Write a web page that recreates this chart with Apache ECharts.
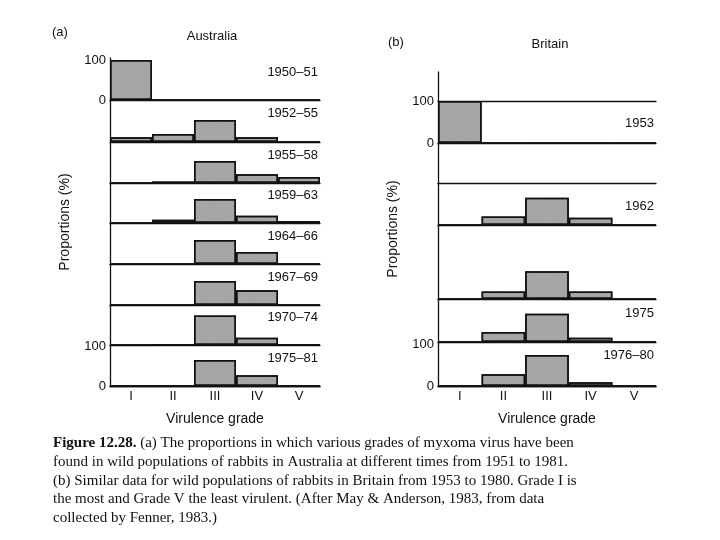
<!DOCTYPE html>
<html>
<head>
<meta charset="utf-8">
<script src="https://cdn.jsdelivr.net/npm/echarts@6/dist/echarts.min.js"></script>
<style>
html,body{margin:0;padding:0;background:#fff;}
#chart{width:720px;height:540px;}
</style>
</head>
<body>
<div id="chart"></div>
<script>
// virulence grades
var grades = ['I', 'II', 'III', 'IV', 'V'];

// Australia, proportions (%) per grade
var ausPeriods = ['1950–51', '1952–55', '1955–58', '1959–63', '1964–66', '1967–69', '1970–74', '1975–81'];
var aus1950 = [100, 0, 0, 0, 0];
var aus1952 = [12, 20, 55, 12, 0];
var aus1955 = [0, 4, 55, 22, 15];
var aus1959 = [0, 8, 60, 18, 5];
var aus1964 = [0, 0, 60, 30, 0];
var aus1967 = [0, 0, 60, 37, 0];
var aus1970 = [0, 1, 74, 18, 1];
var aus1975 = [0, 0, 65, 27, 0];
var ausData = [aus1950, aus1952, aus1955, aus1959, aus1964, aus1967, aus1970, aus1975];

// Britain, proportions (%) per grade
var gbPeriods = ['1953', '1962', '', '1975', '1976–80'];
var gb1953 = [100, 0, 0, 0, 0];
var gb1962 = [0, 20, 65, 17, 0];
var gbMid = [0, 18, 66, 18, 0];
var gb1975 = [0, 24, 67, 10, 0];
var gb1976 = [0, 28, 74, 9, 0];
var gbData = [gb1953, gb1962, gbMid, gb1975, gb1976];

var FONT = 'Liberation Sans';
var grid = [], xAxis = [], yAxis = [], series = [], graphic = [];

function addRow(left, width, base, h, values, yLabels, topLine) {
	var gi = grid.length, xi = xAxis.length, yi = yAxis.length;
	grid.push({left: left, width: width, top: base - h, height: h});
	xAxis.push({type: 'category', gridIndex: gi, data: grades,
		axisLine: {lineStyle: {color: '#111', width: 1.3}},
		axisTick: {show: false}, axisLabel: {show: false}});
	yAxis.push({type: 'value', gridIndex: gi, min: 0, max: 100, interval: 100,
		splitLine: {show: false}, axisLine: {show: false}, axisTick: {show: false},
		axisLabel: {show: yLabels, color: '#111', fontFamily: FONT, fontSize: 13, margin: 4}});
	series.push({type: 'bar', xAxisIndex: xi, yAxisIndex: yi, data: values,
		barCategoryGap: 0, silent: true,
		itemStyle: {color: '#a9a9a9', borderColor: '#111', borderWidth: 1.5,
			decal: {symbol: 'rect', symbolSize: 0.5, color: 'rgba(60,60,60,0.35)',
				dashArrayX: [1, 0], dashArrayY: [1, 2], rotation: 0.8}}});
	if (topLine) {
		xAxis.push({type: 'category', gridIndex: gi, position: 'top', data: grades,
			axisLine: {lineStyle: {color: '#111', width: 1.3}},
			axisTick: {show: false}, axisLabel: {show: false}});
	}
}

function addFrame(left, width, top, bottom, axisName) {
	var gi = grid.length;
	grid.push({left: left, width: width, top: top, height: bottom - top});
	xAxis.push({type: 'category', gridIndex: gi, data: grades,
		name: 'Virulence grade', nameLocation: 'middle', nameGap: 26,
		nameTextStyle: {color: '#111', fontFamily: FONT, fontSize: 14},
		axisLine: {lineStyle: {color: '#111', width: 1.3}},
		axisTick: {inside: true, length: 8, lineStyle: {color: '#111'}},
		axisLabel: {color: '#111', fontFamily: FONT, fontSize: 13, margin: 4}});
	yAxis.push({type: 'value', gridIndex: gi, min: 0, max: 1,
		name: axisName, nameLocation: 'middle', nameGap: 38,
		nameTextStyle: {color: '#111', fontFamily: FONT, fontSize: 14},
		splitLine: {show: false}, axisTick: {show: false}, axisLabel: {show: false},
		axisLine: {show: true, lineStyle: {color: '#111', width: 1.3}}});
}

// Australia panel
var ausBase = [100, 142, 183, 223, 264, 305, 345, 386];
var ausLabelY = [72, 113, 155, 195, 236, 277, 317, 358];
addFrame(110, 210, 58, 386, 'Proportions (%)');
ausData.forEach(function(vals, i) {
	addRow(110, 210, ausBase[i], 40, vals, i === 0 || i === 7, false);
	graphic.push({type: 'text', x: 318, y: ausLabelY[i],
		style: {text: ausPeriods[i], align: 'right', verticalAlign: 'middle',
			font: '13px "Liberation Sans"', fill: '#111'}});
});

// Britain panel
var gbBase = [143, 225, 299, 342, 386];
var gbLabelY = [123, 206, 0, 313, 355];
addFrame(438, 218, 72, 386, 'Proportions (%)');
gbData.forEach(function(vals, i) {
	addRow(438, 218, gbBase[i], 42, vals, i === 0 || i === 4, i === 0 || i === 1);
	if (gbPeriods[i]) {
		graphic.push({type: 'text', x: 654, y: gbLabelY[i],
			style: {text: gbPeriods[i], align: 'right', verticalAlign: 'middle',
				font: '13px "Liberation Sans"', fill: '#111'}});
	}
});

// headers
var heads = [['(a)', 52, 32, 'left'], ['Australia', 212, 36, 'center'],
	['(b)', 388, 42, 'left'], ['Britain', 550, 44, 'center']];
heads.forEach(function(h) {
	graphic.push({type: 'text', x: h[1], y: h[2],
		style: {text: h[0], align: h[3], verticalAlign: 'middle',
			font: '13px "Liberation Sans"', fill: '#111'}});
});

// caption
var caption = [
	'{b|Figure 12.28.} (a) The proportions in which various grades of myxoma virus have been',
	'found in wild populations of rabbits in Australia at different times from 1951 to 1981.',
	'(b) Similar data for wild populations of rabbits in Britain from 1953 to 1980. Grade I is',
	'the most and Grade V the least virulent. (After May & Anderson, 1983, from data',
	'collected by Fenner, 1983.)'
];
caption.forEach(function(line, i) {
	graphic.push({type: 'text', x: 53, y: 443 + i * 18.8,
		style: {text: line, verticalAlign: 'middle',
			font: '15px "Liberation Serif"', fill: '#111',
			rich: {b: {fontWeight: 'bold', fontFamily: 'Liberation Serif', fontSize: 15, fill: '#111'}}}});
});

var chart = echarts.init(document.getElementById('chart'));
chart.setOption({
	backgroundColor: '#fff',
	animation: false,
	grid: grid,
	xAxis: xAxis,
	yAxis: yAxis,
	series: series,
	graphic: graphic
});
</script>
</body>
</html>
